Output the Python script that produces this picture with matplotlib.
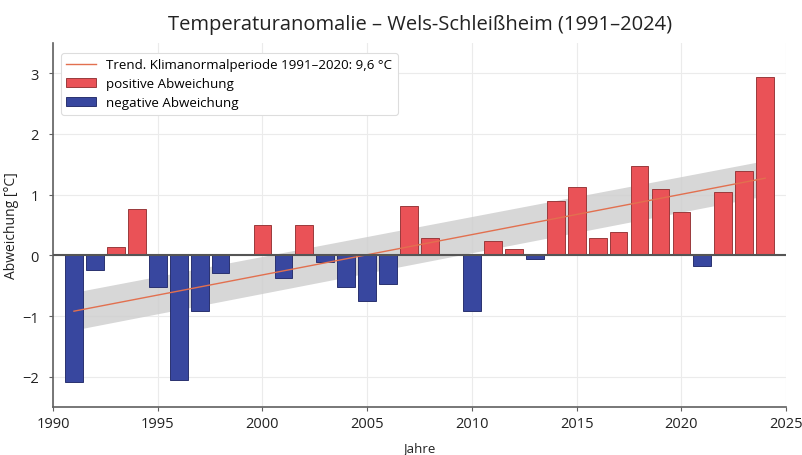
import matplotlib
matplotlib.use("Agg")
import matplotlib.pyplot as plt
import numpy as np

plt.rcParams['font.family'] = ['Open Sans', 'DejaVu Sans']

years = list(range(1991, 2025))
anomalies = [-2.08, -0.24, 0.13, 0.76, -0.52, -2.05, -0.92, -0.29, 0.0, 0.50,
             -0.37, 0.50, -0.11, -0.53, -0.75, -0.47, 0.82, 0.28, 0.0, -0.92,
             0.24, 0.10, -0.06, 0.90, 1.13, 0.28, 0.39, 1.47, 1.10, 0.72,
             -0.17, 1.05, 1.39, 2.93]
trend_years = [1991, 2024]
trend_values = [-0.92, 1.27]
band_halfwidth = [0.31, 0.29]

title = "Temperaturanomalie – Wels-Schleißheim (1991–2024)"
trend_label = "Trend. Klimanormalperiode 1991–2020: 9,6 °C"

fig = plt.figure(figsize=(8.03, 4.56), dpi=100)
ax = fig.add_axes([0.066, 0.105, 0.913, 0.799])

pos_col = '#ea5257'
neg_col = '#38479f'

yrs = np.array(years)
vals = np.array(anomalies)
ty = np.array(trend_years, dtype=float)
tv = np.array(trend_values)
hw = np.array(band_halfwidth)

ax.fill_between(ty, tv - hw, tv + hw, color='#cdcdcd', alpha=0.8, lw=0, zorder=1)

pos = vals > 0
neg = vals < 0
ax.bar(yrs[pos], vals[pos], width=0.85, color=pos_col,
       edgecolor='#9a3a3c', linewidth=0.7, zorder=2, label='positive Abweichung')
ax.bar(yrs[neg], vals[neg], width=0.85, color=neg_col,
       edgecolor='#2a3270', linewidth=0.7, zorder=2, label='negative Abweichung')

ax.plot(ty, tv, color='#e2704f', lw=1.0, zorder=3, label=trend_label)
ax.axhline(0, color='#555555', lw=1.5, zorder=4)

ax.set_xlim(1990, 2025)
ax.set_ylim(-2.5, 3.5)
ax.set_xticks([1990, 1995, 2000, 2005, 2010, 2015, 2020, 2025])
ax.set_yticks([-2, -1, 0, 1, 2, 3])
ax.grid(True, color='#ebebeb', lw=0.8, zorder=0)
ax.set_axisbelow(True)
for s in ['top', 'right']:
    ax.spines[s].set_visible(False)
for s in ['left', 'bottom']:
    ax.spines[s].set_color('#606060')
    ax.spines[s].set_linewidth(1.2)
ax.tick_params(axis='both', labelsize=10.5, colors='#222222', length=3, color='#606060')
ax.tick_params(axis='y', pad=7)

ax.set_title(title, fontsize=14.5, color='#222222', pad=10)
ax.set_xlabel("Jahre", fontsize=9.5, color='#222222', va='center')
ax.set_ylabel("Abweichung [°C]", fontsize=10, color='#222222', va='center')
ax.xaxis.set_label_coords(0.5, -0.11)
ax.yaxis.set_label_coords(-0.057, 0.5)

h, l = ax.get_legend_handles_labels()
idx = {lab: i for i, lab in enumerate(l)}
order = [idx[trend_label], idx['positive Abweichung'], idx['negative Abweichung']]
leg = ax.legend([h[i] for i in order], [l[i] for i in order], loc='upper left',
                fontsize=9.6, frameon=True, framealpha=1, edgecolor='#dddddd',
                handlelength=2.2, borderpad=0.4, labelspacing=0.45,
                bbox_to_anchor=(0.002, 0.99))
leg.get_frame().set_linewidth(0.8)

fig.savefig("out.png", dpi=100)
